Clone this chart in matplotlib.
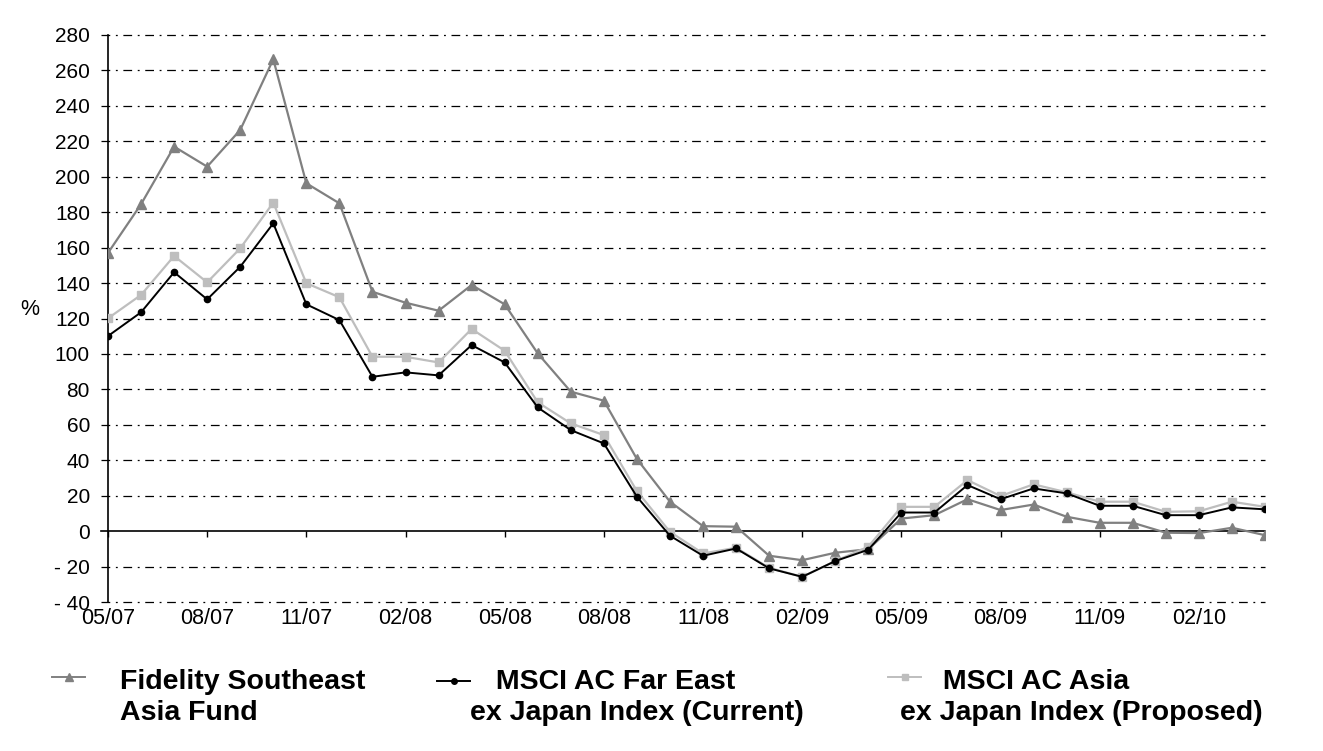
import matplotlib
matplotlib.use("Agg")
import matplotlib.pyplot as plt
from matplotlib.lines import Line2D

months = ["05/07","06/07","07/07","08/07","09/07","10/07","11/07","12/07",
          "01/08","02/08","03/08","04/08","05/08","06/08","07/08","08/08",
          "09/08","10/08","11/08","12/08","01/09","02/09","03/09","04/09",
          "05/09","06/09","07/09","08/09","09/09","10/09","11/09","12/09",
          "01/10","02/10","03/10","04/10"]
tick_labels = ["05/07","08/07","11/07","02/08","05/08","08/08",
               "11/08","02/09","05/09","08/09","11/09","02/10"]

fund = [157, 184.5, 217, 205.7, 226.4, 266.3, 196.3, 185, 135.1, 128.9, 124.4, 138.9,
        128, 100.3, 78.7, 73.6, 40.7, 16.6, 2.8, 2.5, -13.9, -16.4, -12.2, -10.2,
        7.1, 9, 18, 11.9, 15, 8.1, 4.7, 4.7, -0.9, -1.1, 1.9, -2.3]
far_east = [110.1, 123.5, 146.1, 130.8, 149.2, 173.7, 128, 119.1, 87.1, 89.6, 87.9, 105,
            95.2, 69.8, 57, 49.5, 19.4, -2.6, -13.9, -9.8, -21, -25.8, -16.9, -10.5,
            10.5, 10.5, 26, 18, 24.1, 21.3, 14.3, 14.3, 9, 9, 13.4, 12.3]
asia = [120.1, 133.3, 155.3, 140.4, 159.6, 185.4, 139.9, 132, 98.4, 98.4, 95.2, 114.1,
        101.8, 72.7, 60.8, 54.2, 22.6, -0.4, -12.6, -9.4, -20.7, -25.8, -16.9, -8.8,
        13.7, 13.7, 28.8, 19.8, 26.4, 21.9, 16.6, 16.6, 10.9, 11.2, 16.6, 13.7]

series_names = [["Fidelity Southeast", "Asia Fund"],
                [" MSCI AC Far East", "ex Japan Index (Current)"],
                [" MSCI AC Asia", "ex Japan Index (Proposed)"]]
yticks = [-40, -20, 0, 20, 40, 60, 80, 100, 120, 140, 160, 180, 200, 220, 240, 260, 280]
ytick_labels = ["- 40", "- 20"] + [str(v) for v in yticks[2:]]

plt.rcParams['font.family'] = ['Liberation Sans', 'DejaVu Sans']

fig = plt.figure(figsize=(13.23, 7.51), dpi=100)
ax = fig.add_axes([108/1323, 1-602/751, 1157/1323, 567/751])

x = list(range(len(months)))
c_fund, c_fe, c_asia = "#808080", "#000000", "#bebebe"

ax.set_xlim(0, len(months)-1)
ax.set_ylim(-40, 280)

# grid lines (dash-dot), solid zero line
for v in yticks:
    if v == 0:
        ax.axhline(v, xmin=-0.0062, xmax=1.0, color="black", lw=1.2, clip_on=False, zorder=1)
    else:
        ax.axhline(v, xmin=-0.0062, xmax=1.0, color="black", lw=0.9,
                   linestyle=(0, (7, 4.5, 1.5, 4.5)), clip_on=False, zorder=1)

ax.plot(x, fund, color=c_fund, lw=1.6, marker="^", ms=6.5, zorder=3)
ax.plot(x, asia, color=c_asia, lw=1.6, marker="s", ms=5.5, zorder=4)
ax.plot(x, far_east, color=c_fe, lw=1.4, marker="o", ms=4.5, zorder=5)

for s in ["top", "right"]:
    ax.spines[s].set_visible(False)
ax.spines["left"].set_linewidth(1.2)
ax.spines["bottom"].set_position(("data", 0))
ax.spines["bottom"].set_visible(False)

ax.set_yticks(yticks)
ax.set_yticklabels(ytick_labels, fontsize=15)
ax.tick_params(axis="y", length=0, pad=13)

tick_pos = [months.index(t) for t in tick_labels]
ax.set_xticks(tick_pos)
ax.tick_params(axis="x", direction="out", length=4.5, width=1.0, labelbottom=False)

sec = ax.secondary_xaxis(0)
sec.set_xticks(tick_pos)
sec.set_xticklabels(tick_labels, fontsize=15.5)
sec.tick_params(length=0, pad=4)
sec.spines["bottom"].set_visible(False)

fig.text(30/1323, 1-309/751, "%", fontsize=15.5, ha="center", va="center")

# legend
leg = [(52, 85, 677, c_fund, "^", 6, 120, 120, series_names[0]),
       (437, 470, 681, c_fe, "o", 4, 488, 470, series_names[1]),
       (888, 921, 677, c_asia, "s", 5, 935, 900, series_names[2])]
for x0, x1, ym, col, mk, ms, tx1, tx2, names in leg:
    fig.add_artist(Line2D([x0/1323, x1/1323], [1-ym/751]*2, color=col, lw=1.4))
    fig.add_artist(Line2D([(x0+x1)/2/1323], [1-ym/751], color=col, marker=mk, ms=ms, lw=0))
    fig.text(tx1/1323, 1-682/751, names[0], fontsize=20.5, fontweight="bold", ha="left", va="center")
    fig.text(tx2/1323, 1-713/751, names[1], fontsize=20.5, fontweight="bold", ha="left", va="center")

fig.savefig("out.png", dpi=100)
